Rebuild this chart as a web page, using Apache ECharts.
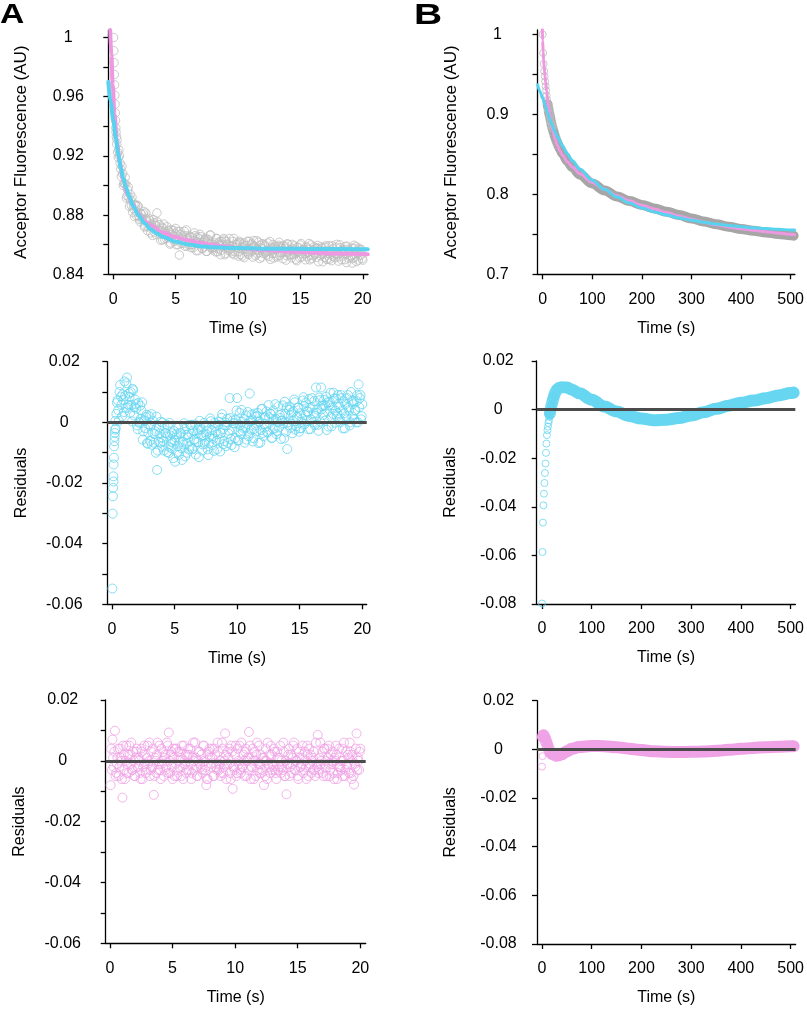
<!DOCTYPE html>
<html><head><meta charset="utf-8">
<script src="https://cdn.jsdelivr.net/npm/echarts@6/dist/echarts.min.js"></script>
<style>html,body{margin:0;padding:0;background:#fff}#c{width:807px;height:1009px}</style>
</head><body><div id="c"></div>
<script>
// ---------- tick labels ----------
const ticksTimeA = [0, 5, 10, 15, 20];
const ticksTimeB = [0, 100, 200, 300, 400, 500];
const ticksFluA = [0.84, 0.86, 0.88, 0.9, 0.92, 0.94, 0.96, 0.98, 1];
const labelsFluA = [0.84, 0.88, 0.92, 0.96, 1];
const ticksFluB = [0.7, 0.75, 0.8, 0.85, 0.9, 0.95, 1];
const labelsFluB = [0.7, 0.8, 0.9, 1];
const ticksResA = [-0.06, -0.05, -0.04, -0.03, -0.02, -0.01, 0, 0.01, 0.02];
const labelsResA = [-0.06, -0.04, -0.02, 0, 0.02];
const ticksResB = [-0.08, -0.06, -0.04, -0.02, 0, 0.02];
const labelsResB = [-0.08, -0.06, -0.04, -0.02, 0, 0.02];

// ---------- panel A data (time in s) ----------
const timeA = [
0.3,0.4,0.5,0.6,0.7,0.8,0.9,1.0,1.1,1.2,
1.3,1.4,1.5,1.6,1.7,1.8,1.9,2.0,2.1,2.2,
2.3,2.4,2.5,2.6,2.7,2.8,2.9,3.0,3.1,3.2,
3.3,3.4,3.5,3.6,3.7,3.8,3.9,4.0,4.1,4.2,
4.3,4.4,4.5,4.6,4.7,4.8,4.9,5.0,5.1,5.2,
5.3,5.4,5.5,5.6,5.7,5.8,5.9,6.0,6.1,6.2,
6.3,6.4,6.5,6.6,6.7,6.8,6.9,7.0,7.1,7.2,
7.3,7.4,7.5,7.6,7.7,7.8,7.9,8.0,8.1,8.2,
8.3,8.4,8.5,8.6,8.7,8.8,8.9,9.0,9.1,9.2,
9.3,9.4,9.5,9.6,9.7,9.8,9.9,10.0,10.1,10.2,
10.3,10.4,10.5,10.6,10.7,10.8,10.9,11.0,11.1,11.2,
11.3,11.4,11.5,11.6,11.7,11.8,11.9,12.0,12.1,12.2,
12.3,12.4,12.5,12.6,12.7,12.8,12.9,13.0,13.1,13.2,
13.3,13.4,13.5,13.6,13.7,13.8,13.9,14.0,14.1,14.2,
14.3,14.4,14.5,14.6,14.7,14.8,14.9,15.0,15.1,15.2,
15.3,15.4,15.5,15.6,15.7,15.8,15.9,16.0,16.1,16.2,
16.3,16.4,16.5,16.6,16.7,16.8,16.9,17.0,17.1,17.2,
17.3,17.4,17.5,17.6,17.7,17.8,17.9,18.0,18.1,18.2,
18.3,18.4,18.5,18.6,18.7,18.8,18.9,19.0,19.1,19.2,
19.3,19.4,19.5,19.6,19.7,19.8,19.9,20.0];
const timeA2 = [
0.35,0.45,0.55,0.65,0.75,0.85,0.95,1.05,1.15,1.25,
1.35,1.45,1.55,1.65,1.75,1.85,1.95,2.05,2.15,2.25,
2.35,2.45,2.55,2.65,2.75,2.85,2.95,3.05,3.15,3.25,
3.35,3.45,3.55,3.65,3.75,3.85,3.95,4.05,4.15,4.25,
4.35,4.45,4.55,4.65,4.75,4.85,4.95,5.05,5.15,5.25,
5.35,5.45,5.55,5.65,5.75,5.85,5.95,6.05,6.15,6.25,
6.35,6.45,6.55,6.65,6.75,6.85,6.95,7.05,7.15,7.25,
7.35,7.45,7.55,7.65,7.75,7.85,7.95,8.05,8.15,8.25,
8.35,8.45,8.55,8.65,8.75,8.85,8.95,9.05,9.15,9.25,
9.35,9.45,9.55,9.65,9.75,9.85,9.95,10.05,10.15,10.25,
10.35,10.45,10.55,10.65,10.75,10.85,10.95,11.05,11.15,11.25,
11.35,11.45,11.55,11.65,11.75,11.85,11.95,12.05,12.15,12.25,
12.35,12.45,12.55,12.65,12.75,12.85,12.95,13.05,13.15,13.25,
13.35,13.45,13.55,13.65,13.75,13.85,13.95,14.05,14.15,14.25,
14.35,14.45,14.55,14.65,14.75,14.85,14.95,15.05,15.15,15.25,
15.35,15.45,15.55,15.65,15.75,15.85,15.95,16.05,16.15,16.25,
16.35,16.45,16.55,16.65,16.75,16.85,16.95,17.05,17.15,17.25,
17.35,17.45,17.55,17.65,17.75,17.85,17.95,18.05,18.15,18.25,
18.35,18.45,18.55,18.65,18.75,18.85,18.95,19.05,19.15,19.25,
19.35,19.45,19.55,19.65,19.75,19.85,19.95];

const grayAEarlyTime = [0.02,0.04,0.06,0.08,0.1,0.12,0.14,0.16,0.18,0.2,0.22,0.25,0.28];
const grayAEarly = [1.0,0.991,0.983,0.975,0.968,0.961,0.955,0.949,0.944,0.939,0.936,0.933,0.928];
const grayA = [
.931,.919,.920,.911,.913,.900,.901,.901,.893,.899,
.886,.890,.892,.8845,.879,.8865,.882,.886,.877,.881,
.877,.881,.872,.8815,.8758,.872,.8765,.868,.8725,.877,
.8685,.873,.8815,.869,.8735,.863,.8695,.871,.8637,.8674,
.8721,.8648,.8685,.8612,.8669,.8696,.8623,.871,.863,.860,
.853,.867,.864,.861,.869,.866,.859,.863,.866,.860,
.865,.858,.868,.861,.862,.856,.864,.8655,.8575,.8615,
.8585,.8645,.8555,.8635,.8605,.8665,.8575,.8582,.8612,.8552,
.8642,.8572,.8602,.8532,.8622,.8592,.8632,.8542,.8602,.8572,
.8642,.8552,.8592,.8622,.8532,.8582,.8602,.8553,.8623,.8533,
.8583,.8603,.8513,.8593,.8573,.8543,.8623,.8557,.8607,.8517,
.8587,.8527,.8627,.8567,.8547,.8597,.8517,.8571,.8601,.8551,
.8531,.8611,.8561,.8501,.8581,.8601,.8541,.8566,.8516,.8586,
.8616,.8546,.8576,.8506,.8556,.8586,.8526,.8602,.8532,.8562,
.8512,.8572,.8592,.8542,.8492,.8582,.8552,.8598,.8518,.8568,
.8558,.8498,.8578,.8548,.8608,.8528,.8508,.8565,.8585,.8535,
.8515,.8595,.8555,.8525,.8575,.8485,.8545,.8582,.8502,.8562,
.8592,.8532,.8492,.8572,.8552,.8512,.8602,.8539,.8519,.8579,
.8499,.8559,.8539,.8589,.8479,.8569,.8549,.8516,.8576,.8506,
.8596,.8536,.8486,.8556,.8576,.8526,.8566,.8496];
const grayA2 = [
.9225,.924,.915,.906,.908,.9015,.9055,.8915,.897,.892,
.894,.8865,.882,.8868,.8873,.8798,.8865,.8795,.8755,.8805,
.8775,.8825,.8728,.8771,.8694,.8778,.8723,.8738,.8663,.8748,
.8733,.8668,.8753,.8698,.8673,.8718,.8633,.8739,.8686,.8643,
.866,.8697,.8604,.8701,.8658,.8635,.8672,.860,.869,.865,
.869,.861,.866,.863,.859,.870,.864,.860,.865,.858,
.860,.863,.866,.856,.865,.861,.867,.8605,.8575,.8625,
.8635,.8555,.8605,.8625,.8665,.8585,.8565,.8602,.8582,.8642,
.8552,.8612,.8622,.8562,.8602,.8642,.8532,.8622,.8582,.8562,
.8592,.8572,.8542,.8642,.8552,.8602,.8612,.8523,.8613,.8573,
.8523,.8613,.8593,.8553,.8623,.8533,.8573,.8597,.8557,.8627,
.8587,.8567,.8537,.8617,.8507,.8577,.8607,.8541,.8591,.8551,
.8561,.8521,.8621,.8571,.8541,.8511,.8591,.8576,.8526,.8596,
.8526,.8586,.8546,.8596,.8576,.8496,.8606,.8552,.8562,.8532,
.8602,.8532,.8562,.8502,.8582,.8552,.8512,.8608,.8538,.8568,
.8538,.8588,.8518,.8568,.8498,.8598,.8558,.8525,.8545,.8575,
.8575,.8485,.8565,.8585,.8535,.8555,.8515,.8592,.8502,.8542,
.8502,.8552,.8592,.8522,.8542,.8582,.8532,.8489,.8599,.8559,
.8559,.8569,.8499,.8539,.8589,.8509,.8559,.8526,.8476,.8576,
.8516,.8586,.8546,.8496,.8566,.8536,.8506];

const pinkFitATime = [-0.25,-0.15,-0.05,0.1,0.3,0.5,0.8,1.1,1.5,2.0,2.5,3.0,4.0,5.0,6.0,7.0,8.0,9.0,10,12,14,16,18,20.4];
const pinkFitA = [1.005,0.988,0.968,0.948,0.929,0.916,0.904,0.895,0.888,0.881,0.876,0.873,0.868,0.865,0.863,0.8612,0.8598,0.8587,0.8577,0.8564,0.8554,0.8546,0.854,0.8535];
const cyanFitATime = [-0.4,-0.2,0,0.2,0.4,0.6,0.8,1.0,1.3,1.6,2.0,2.5,3.0,3.5,4.0,5.0,6.0,7.0,8,10,13,16,20.4];
const cyanFitA = [0.970,0.956,0.944,0.932,0.921,0.912,0.905,0.899,0.892,0.886,0.880,0.8745,0.8705,0.8675,0.8652,0.862,0.8602,0.859,0.8583,0.8577,0.8573,0.8571,0.857];

const residCyanAEarlyTime = [0.03,0.05,0.07,0.09,0.11,0.12,0.13,0.15,0.17,0.19,0.21,0.23,0.25,0.27];
const residCyanAEarly = [-0.0548,-0.0301,-0.0244,-0.0216,-0.0178,-0.0195,-0.0139,-0.0117,-0.0079,-0.0062,-0.0048,-0.0035,-0.0024,0.0005];
const residCyanA = [
-.002,.0065,.004,.010,.0085,.002,.0073,.0135,.0048,.0148,
.0058,.0084,.010,.0003,.0106,.005,.006,-.001,.0064,-.0002,
.0012,.0066,-.003,.0004,.0018,-.0068,-.0034,.002,-.0012,-.0074,
.0004,-.0038,-.010,-.0157,-.0064,-.0036,.0002,-.008,-.0062,-.0014,
-.0036,-.0098,-.008,-.0002,-.0064,-.0036,-.0118,-.006,-.005,-.0099,
-.0018,-.0067,-.0035,-.0124,-.0073,-.0022,-.0041,-.010,-.005,-.0079,
-.0008,-.0088,-.0027,-.0057,-.0106,-.0036,-.0065,.0005,-.0024,-.0093,
-.0042,-.0071,-.001,-.0029,-.0108,-.0047,.0004,-.0075,-.0054,-.0002,
-.0031,-.0089,-.0008,-.0056,-.0035,.0027,-.0072,-.001,-.0079,.0012,
-.0037,.008,-.0055,-.0024,-.0003,-.0082,.0009,.008,-.006,.0031,
-.0039,.0002,-.0018,-.0067,.0023,-.0006,-.0046,.0095,-.0024,.0007,
-.0052,.0029,-.001,.0021,-.0068,.0003,-.0026,.0045,-.0045,.0016,
-.0014,-.0033,.0057,-.0002,.0028,-.0051,.0039,-.002,.0011,-.0028,
.0053,.0024,-.0055,.0006,-.0003,.0068,-.0031,-.0088,-.0009,.0052,
.0023,-.0036,.0035,.0066,-.0013,.0018,.0049,-.002,-.0019,.0012,
.0083,-.0006,.0065,.0036,-.0023,.0048,.0009,.008,.003,-.0009,
.0115,.0042,-.0028,.0073,.0115,.0054,.0056,.0005,.0085,.0036,
-.0014,.0067,.0017,.0048,.0098,-.0001,.0079,.003,.006,.001,
.009,.004,.007,-.002,.002,.008,.005,-.001,.010,.002,
.007,.004,0,.009,.0125,.008,.001,.006];
const residCyanA2 = [
.0028,.0073,.0005,.0123,.0058,.0092,.0034,.0087,.0129,.0049,
.0096,.0032,.0057,.011,.0023,.0075,.0045,-.0023,.0001,.0055,
.0039,-.0057,.0007,-.0019,.0025,-.0071,-.0007,-.0061,.0027,-.0035,
-.0067,-.0029,.0019,-.0093,-.0015,-.0067,-.0049,-.0001,-.0093,-.0035,
-.0047,-.0009,-.0101,-.0043,-.0085,-.0067,-.0029,-.013,-.0039,-.0078,
-.0107,-.0036,-.0085,-.0064,-.0003,-.0112,-.0071,-.004,-.009,-.0009,
-.0038,-.0088,-.0057,-.0007,-.0066,-.0026,-.0115,-.0015,-.0044,-.0073,
-.0002,-.0061,-.004,-.0089,-.0068,.0013,-.0026,-.0045,-.0094,-.0012,
-.0061,-.0039,.0002,-.0096,.0015,-.0023,-.0062,0,-.0009,-.0068,
-.0027,.0014,-.0075,.0006,-.0003,-.0052,.0039,-.006,-.003,-.0009,
.0041,-.0028,.0012,-.0017,-.0057,.0034,-.0036,.0005,.0026,-.0063,
-.0022,.0019,-.003,.0031,.0002,-.0067,.0044,-.0035,-.0005,.0016,
.0036,-.0033,.0017,.0028,-.0052,-.0021,.0009,.006,-.0039,.0002,
-.0017,.0014,.0005,.0056,-.0053,.0028,.0049,0,.0041,-.0018,
.0033,.0004,.0075,-.0024,.0017,.0048,-.0031,.003,.0001,.0072,
.0053,.0024,.0005,.0036,.0077,-.0022,.0049,0,.007,.0021,
.0031,-.0008,.0082,.0003,.0043,.0024,.0074,.0055,-.0025,.0066,
.0056,.0097,-.0013,.0028,.0078,.0039,.0019,.009,.005,0,
.008,-.002,.003,.006,.001,.009,.004,0,.007,.006,
.001,.004,.007,0,.005,.009,.002];

const residPinkAEarlyTime = [0.05,0.1,0.15,0.2,0.25];
const residPinkAEarly = [-0.008,0.004,-0.003,0.007,0.001];
const residPinkA = [
-.002,.0099,-.004,.001,-.005,.004,0,-.0121,.002,-.006,
.005,-.001,-.004,.002,.006,-.003,0,-.005,.003,-.002,
.001,-.004,.004,-.006,-.001,.002,-.003,.005,0,-.005,
.003,-.002,-.0112,.001,-.004,.006,-.001,-.003,.004,0,
-.005,.002,-.002,.005,.0093,-.004,.003,-.006,.001,.004,
.004,-.003,0,.003,-.005,-.002,.005,-.001,-.004,.002,
-.003,.004,-.006,.001,0,.006,-.002,-.005,.003,-.001,
.002,-.004,.005,-.003,-.008,-.006,.003,.001,-.002,.004,
-.005,.002,-.001,.006,-.003,0,-.004,.004,-.002,.009,
-.006,.003,-.001,-.004,.005,-.0092,-.002,.002,-.005,.004,
-.001,-.003,.006,-.002,0,.003,-.005,.001,.0095,.005,
-.002,.004,-.006,0,.002,-.003,.005,-.001,-.004,.001,
-.008,-.005,0,.006,-.002,-.004,.002,-.001,.004,-.003,
-.006,.001,-.002,.005,0,-.003,.003,-.005,-.011,-.001,
.004,-.002,-.004,.001,.006,-.003,0,-.005,.003,-.002,
-.001,.005,-.003,0,-.006,.002,.004,-.002,-.004,.001,
.003,-.005,-.001,.0085,-.003,.006,0,-.004,.004,-.002,
-.005,.001,.005,-.003,-.001,.003,-.006,0,.002,-.004,
.004,-.002,0,-.005,.006,-.003,-.001,.002,-.004,.003,
-.006,0,-.0078,-.002,.009,.001,-.003,.004];
const residPinkA2 = [
.003,-.005,-.001,.004,-.002,.001,-.006,.005,-.003,0,
-.004,.002,.005,-.001,-.003,.003,-.005,.001,.004,-.002,
0,-.006,.003,-.002,.005,-.004,.001,-.001,.006,-.003,
-.002,.004,-.005,0,.002,-.003,.005,-.006,-.001,.003,
.001,-.003,.006,-.004,0,.002,-.002,.004,-.005,-.001,
-.005,.003,-.002,.001,.005,-.006,0,.002,-.003,.004,
.002,-.001,-.004,.006,-.003,.001,-.005,0,.003,-.002,
-.003,.005,0,-.002,-.006,.002,.004,-.001,.001,-.005,
.004,-.002,-.003,.003,-.001,-.005,.006,-.004,0,.002,
-.001,.001,.004,-.006,.003,-.002,-.003,.005,-.004,0,
.005,-.004,-.002,.002,-.005,.004,0,-.003,.001,-.006,
-.002,0,.003,-.005,.006,-.001,-.004,.002,-.003,.001,
0,.004,-.006,-.001,.002,.005,-.003,-.002,.003,-.004,
.003,-.003,.001,-.004,-.002,.006,-.005,0,-.001,.002,
-.005,.002,-.001,.005,-.003,0,.004,-.006,.001,-.002,
.001,-.004,.003,-.002,.005,-.005,-.001,.002,0,-.003,
-.003,.006,-.002,-.004,.001,-.001,.003,-.005,.004,0,
.004,-.001,-.005,.002,0,-.004,.001,.005,-.006,-.002,
-.002,-.003,.004,0,-.005,.003,-.002,.001,.006,-.004,
.002,-.005,-.001,.004,-.003,0,.003];

// ---------- panel B data (time in s) ----------
const timeB = [0,1,2,3,4,5,6,7,8,9,10,11,12,13,14,15,16,17,18,19,20,22,24,26,28,30,35,40,50,60,75,100,125,150,175,200,225,250,275,300,325,350,375,400,425,450,475,500,506];
const grayB = [0.9998,0.9766,0.963,0.9539,0.9476,0.9412,0.9351,0.9297,0.9233,0.918,0.9125,0.9085,0.9055,0.902,0.8994,0.896,0.8931,0.8903,0.8874,0.8849,0.8825,0.8782,0.8739,0.8701,0.8665,0.8633,0.857,0.8513,0.8414,0.8338,0.8248,0.8134,0.8047,0.7973,0.7916,0.7867,0.7824,0.7782,0.774,0.7699,0.7661,0.7625,0.7594,0.7567,0.7545,0.7524,0.7504,0.7487,0.7483];
const residCyanB = [-0.0798,-0.0586,-0.0465,-0.0394,-0.0346,-0.0302,-0.0261,-0.0222,-0.0178,-0.014,-0.0105,-0.0085,-0.007,-0.0055,-0.0044,-0.003,-0.0016,-0.0005,0.0008,0.0017,0.0025,0.004,0.0055,0.0066,0.0075,0.0082,0.009,0.0092,0.0091,0.0082,0.0067,0.0041,0.0013,-0.0008,-0.0026,-0.0037,-0.0044,-0.0042,-0.0035,-0.0024,-0.0011,0.0003,0.0016,0.0028,0.0037,0.0047,0.0058,0.0068,0.007];
const residPinkB = [-0.0071,-0.0028,0.0052,0.0058,0.0054,0.005,0.0046,0.004,0.0034,0.0028,0.0022,0.0016,0.001,0.0005,0,-0.0005,-0.001,-0.0013,-0.0015,-0.0017,-0.0018,-0.002,-0.0023,-0.0024,-0.0025,-0.0026,-0.0024,-0.002,-0.0008,0.0002,0.001,0.0014,0.0013,0.0009,0.0003,-0.0003,-0.0008,-0.001,-0.0011,-0.001,-0.0009,-0.0006,-0.0002,0.0002,0.0006,0.0009,0.0011,0.0013,0.0013];
const pinkFitBTime = [-0.7,0,1,2,3,4,5,6,8,10,12,14,16,20,25,30,35,40,50,60,75,100,125,150,175,200,225,250,275,300,325,350,375,400,425,450,475,500,508];
const pinkFitB = [1.006,0.992,0.978,0.968,0.96,0.953,0.9465,0.9405,0.929,0.9185,0.909,0.9005,0.893,0.8805,0.869,0.8605,0.854,0.8488,0.8405,0.834,0.8258,0.8148,0.806,0.7982,0.7919,0.7864,0.7816,0.7772,0.7729,0.7689,0.7652,0.7619,0.7592,0.7569,0.7551,0.7533,0.7515,0.75,0.7495];
const cyanFitBTime = [-10,-5,0,5,10,15,20,25,30,40,50,60,75,100,125,150,175,200,225,250,275,300,325,350,375,400,425,450,475,500,508];
const cyanFitB = [0.937,0.928,0.92,0.911,0.902,0.893,0.885,0.878,0.8715,0.8605,0.8505,0.842,0.8315,0.8175,0.806,0.7965,0.789,0.783,0.778,0.774,0.7705,0.7675,0.765,0.7628,0.761,0.7595,0.7582,0.7571,0.7562,0.7555,0.7553];

// ---------- styling ----------
const FONT = 'Liberation Sans, Arial, Helvetica, sans-serif';
const CYAN_LINE = '#58d3ef', CYAN_PT = '#66d6f1';
const PINK_LINE = '#ee98e2', PINK_PT = '#f0a2e6';
const GRAY_PT = '#bdbdbd', GRAY_BAND = '#a6a6a6';
const ZERO = '#4b4b4b';

function pairs(ts, vs) { return ts.map((t, i) => [t, vs[i]]); }
function pick(ts, vs, lo, hi) { return pairs(ts, vs).filter(p => p[0] >= lo && p[0] <= hi); }
const fmt = v => String(+(+v).toFixed(3));

const panels = [
  { grid: {left: 108.3, top: 30.1, width: 259.7, height: 244.2}, xmin: -0.4, xmax: 20.42, xt: ticksTimeA,
    ymin: 0.84, ymax: 1.005, yt: ticksFluA, yl: labelsFluA, ym: 40, yname: 'Acceptor Fluorescence (AU)' },
  { grid: {left: 537.5, top: 30, width: 259.5, height: 244.3}, xmin: -10.4, xmax: 508.6, xt: ticksTimeB,
    ymin: 0.7, ymax: 1.0054, yt: ticksFluB, yl: labelsFluB, ym: 40, yname: 'Acceptor Fluorescence (AU)' },
  { grid: {left: 107.3, top: 361.7, width: 259.4, height: 242.6}, xmin: -0.375, xmax: 20.35, xt: ticksTimeA,
    ymin: -0.06, ymax: 0.02, yt: ticksResA, yl: labelsResA, ym: 43, yname: 'Residuals' },
  { grid: {left: 536.7, top: 361, width: 260, height: 243}, xmin: -10.6, xmax: 509.4, xt: ticksTimeB,
    ymin: -0.08, ymax: 0.02, yt: ticksResB, yl: labelsResB, ym: 38.5, yname: 'Residuals' },
  { grid: {left: 105.7, top: 700, width: 260, height: 243.3}, xmin: -0.34, xmax: 20.43, xt: ticksTimeA,
    ymin: -0.06, ymax: 0.02, yt: ticksResA, yl: labelsResA, ym: 43, yname: 'Residuals' },
  { grid: {left: 537, top: 700.7, width: 260, height: 243.3}, xmin: -10, xmax: 510, xt: ticksTimeB,
    ymin: -0.08, ymax: 0.02, yt: ticksResB, yl: labelsResB, ym: 38.5, yname: 'Residuals' }
];

const axLine = {show: true, onZero: false, lineStyle: {color: '#000', width: 1.3}};
const grids = panels.map(p => Object.assign({containLabel: false}, p.grid));
const xAxes = panels.map((p, i) => ({
  type: 'value', gridIndex: i, min: p.xmin, max: p.xmax,
  axisLine: axLine,
  axisTick: {show: true, length: 5, customValues: p.xt, lineStyle: {color: '#000', width: 1.3}},
  axisLabel: {customValues: p.xt, margin: 17, fontSize: 16, color: '#000', fontFamily: FONT, formatter: fmt},
  splitLine: {show: false},
  name: 'Time (s)', nameLocation: 'middle', nameGap: 46,
  nameTextStyle: {fontSize: 16, color: '#000', fontFamily: FONT}
}));
const yAxes = panels.map((p, i) => ({
  type: 'value', gridIndex: i, min: p.ymin, max: p.ymax,
  axisLine: axLine,
  axisTick: {show: true, length: 5, customValues: p.yt, lineStyle: {color: '#000', width: 1.3}},
  axisLabel: {customValues: p.yl, margin: p.ym, align: 'center', fontSize: 16, color: '#000', fontFamily: FONT, formatter: fmt},
  splitLine: {show: false},
  name: p.yname, nameLocation: 'middle', nameGap: 78, nameRotate: 90,
  nameTextStyle: {fontSize: p.yname === 'Residuals' ? 16 : 17, color: '#000', fontFamily: FONT}
}));

function circles(idx, data, color, size, z) {
  return {type: 'scatter', xAxisIndex: idx, yAxisIndex: idx, data, symbol: 'circle', symbolSize: size,
    itemStyle: {color: 'rgba(0,0,0,0)', borderColor: color, borderWidth: 1}, silent: true, z: z || 2, animation: false};
}
function curve(idx, data, color, width, z) {
  return {type: 'line', xAxisIndex: idx, yAxisIndex: idx, data, smooth: 0.35, smoothMonotone: 'x',
    showSymbol: false, symbol: 'none', lineStyle: {color, width, cap: 'round', join: 'round'}, silent: true, z: z || 3, animation: false};
}
function zeroLine(idx) {
  return {type: 'line', xAxisIndex: idx, yAxisIndex: idx, data: [], z: 10, silent: true,
    markLine: {silent: true, symbol: 'none', label: {show: false}, animation: false,
      lineStyle: {color: ZERO, width: 3, type: 'solid'}, data: [{yAxis: 0}]}};
}

const series = [
  // A top
  circles(0, pairs(grayAEarlyTime, grayAEarly).concat(pairs(timeA, grayA), pairs(timeA2, grayA2)), GRAY_PT, 8.5),
  curve(0, pairs(pinkFitATime, pinkFitA), PINK_LINE, 4),
  curve(0, pairs(cyanFitATime, cyanFitA), CYAN_LINE, 4, 4),
  // B top
  curve(1, pick(timeB, grayB, 10, 506), GRAY_BAND, 10, 2),
  circles(1, pick(timeB, grayB, 0, 20), GRAY_PT, 7),
  curve(1, pairs(pinkFitBTime, pinkFitB), PINK_LINE, 3),
  curve(1, pairs(cyanFitBTime, cyanFitB), CYAN_LINE, 3, 4),
  // A residuals (cyan fit)
  circles(2, pairs(residCyanAEarlyTime, residCyanAEarly).concat(pairs(timeA, residCyanA), pairs(timeA2, residCyanA2)), CYAN_PT, 9),
  zeroLine(2),
  // B residuals (cyan fit)
  curve(3, pick(timeB, residCyanB, 16, 506), CYAN_PT, 12, 2),
  circles(3, pick(timeB, residCyanB, 0, 24), CYAN_PT, 7),
  zeroLine(3),
  // A residuals (pink fit)
  circles(4, pairs(residPinkAEarlyTime, residPinkAEarly).concat(pairs(timeA, residPinkA), pairs(timeA2, residPinkA2)), PINK_PT, 9),
  zeroLine(4),
  // B residuals (pink fit)
  curve(5, pick(timeB, residPinkB, 2, 506), PINK_PT, 12, 2),
  circles(5, pick(timeB, residPinkB, 0, 12), PINK_PT, 7),
  zeroLine(5)
];

const chart = echarts.init(document.getElementById('c'), null, {renderer: 'canvas'});
chart.setOption({
  animation: false,
  backgroundColor: '#fff',
  grid: grids, xAxis: xAxes, yAxis: yAxes, series,
  graphic: [
    {type: 'text', left: 0, top: 1, scaleX: 1.2, style: {text: 'A', fontSize: 28, fontWeight: 'bold', fontFamily: FONT, fill: '#000'}},
    {type: 'text', left: 414, top: 1, scaleX: 1.3, style: {text: 'B', fontSize: 30, fontWeight: 'bold', fontFamily: FONT, fill: '#000'}}
  ]
});
</script></body></html>
